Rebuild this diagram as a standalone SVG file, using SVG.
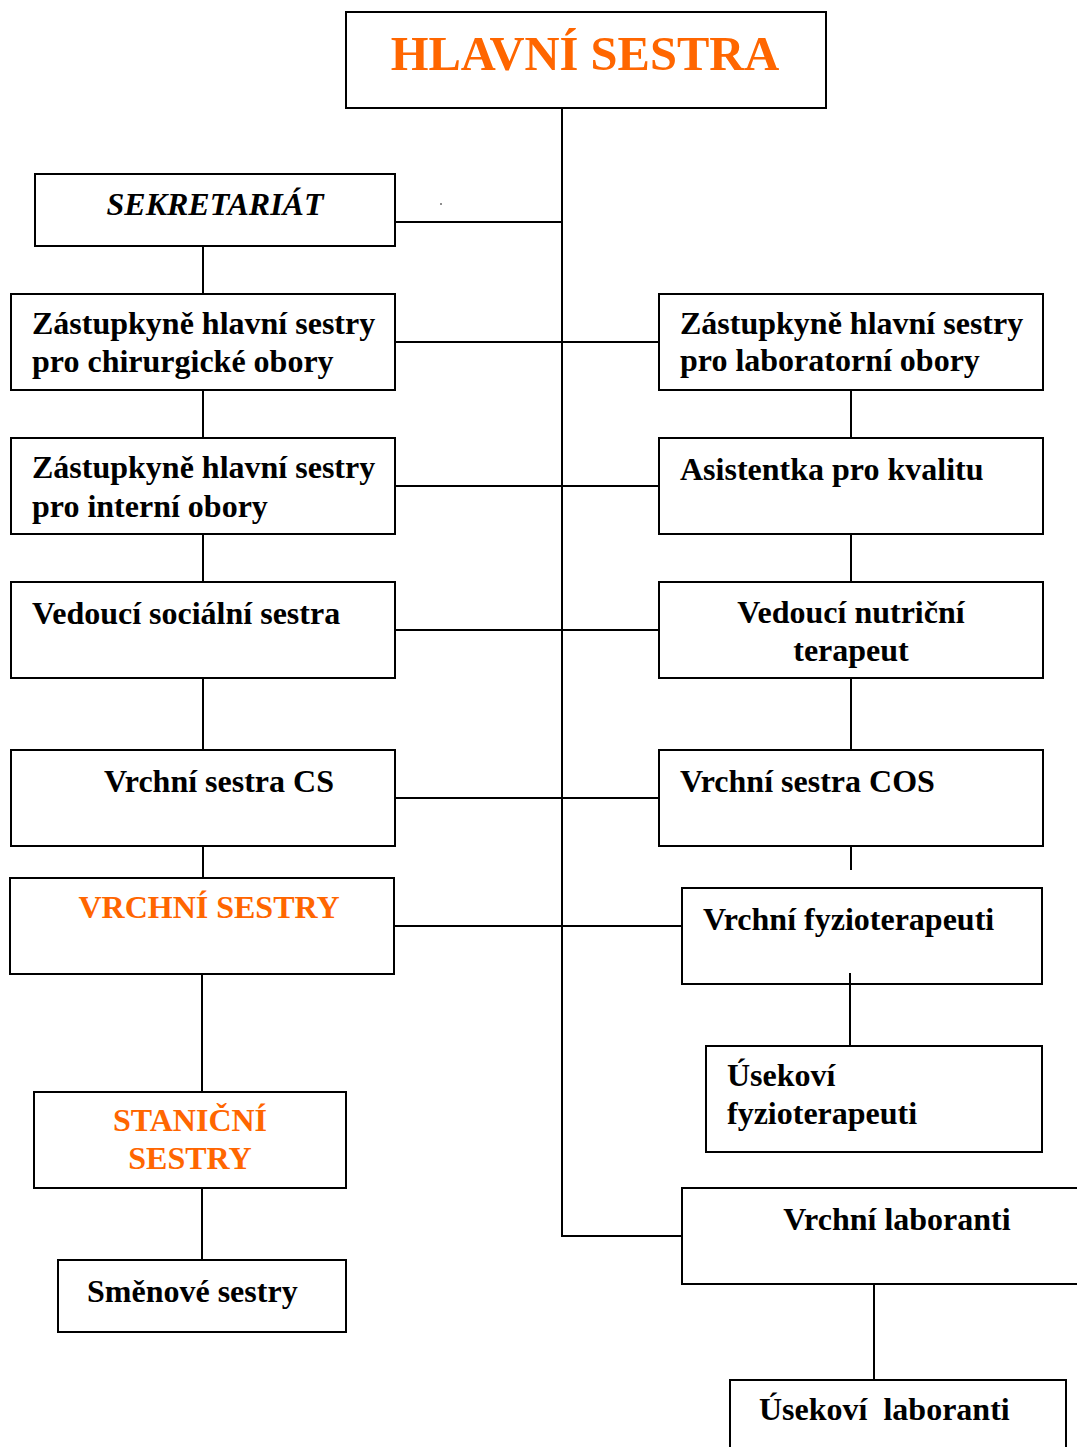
<svg xmlns="http://www.w3.org/2000/svg" width="1077" height="1447" viewBox="0 0 1077 1447">
<style>
rect{fill:#fff;stroke:#000;stroke-width:2}
.c line{stroke:#000;stroke-width:2}
text{font-family:"Liberation Serif","Times New Roman",serif;font-weight:bold;font-size:32px;fill:#000}
.o{fill:#FF6600}
.m{text-anchor:middle}
</style>
<rect width="1077" height="1447" style="stroke:none"/>
<circle cx="441" cy="204" r="0.8" fill="#000"/>
<g id="hlavni"><rect x="346" y="12" width="480" height="96"/><text class="o m" x="585" y="70" style="font-size:48.5px">HLAVNÍ SESTRA</text></g>
<g id="sekretariat"><rect x="35" y="174" width="360" height="72"/><text class="m" x="215" y="215" style="font-style:italic">SEKRETARIÁT</text></g>
<g id="zast-chir"><rect x="11" y="294" width="384" height="96"/><text x="32" y="334">Zástupkyně hlavní sestry</text><text x="32" y="372">pro chirurgické obory</text></g>
<g id="zast-lab"><rect x="659" y="294" width="384" height="96"/><text x="680" y="334">Zástupkyně hlavní sestry</text><text x="680" y="371">pro laboratorní obory</text></g>
<g id="zast-int"><rect x="11" y="438" width="384" height="96"/><text x="32" y="478">Zástupkyně hlavní sestry</text><text x="32" y="517">pro interní obory</text></g>
<g id="asistentka"><rect x="659" y="438" width="384" height="96"/><text x="680" y="480">Asistentka pro kvalitu</text></g>
<g id="ved-soc"><rect x="11" y="582" width="384" height="96"/><text x="32" y="624">Vedoucí sociální sestra</text></g>
<g id="ved-nutr"><rect x="659" y="582" width="384" height="96"/><text class="m" x="851" y="623">Vedoucí nutriční</text><text class="m" x="851" y="661">terapeut</text></g>
<g id="vrchni-cs"><rect x="11" y="750" width="384" height="96"/><text class="m" x="219" y="792">Vrchní sestra CS</text></g>
<g id="vrchni-cos"><rect x="659" y="750" width="384" height="96"/><text x="680" y="792">Vrchní sestra COS</text></g>
<g id="vrchni-sestry"><rect x="10" y="878" width="384" height="96"/><text class="o m" x="209" y="918">VRCHNÍ SESTRY</text></g>
<g id="vrchni-fyzio"><rect x="682" y="888" width="360" height="96"/><text x="703" y="930">Vrchní fyzioterapeuti</text></g>
<g id="usek-fyzio"><rect x="706" y="1046" width="336" height="106"/><text x="727" y="1086">Úsekoví</text><text x="727" y="1124">fyzioterapeuti</text></g>
<g id="stanicni"><rect x="34" y="1092" width="312" height="96"/><text class="o m" x="190" y="1131">STANIČNÍ</text><text class="o m" x="190" y="1169">SESTRY</text></g>
<g id="smenove"><rect x="58" y="1260" width="288" height="72"/><text x="87" y="1302">Směnové sestry</text></g>
<g id="vrchni-lab"><rect x="682" y="1188" width="400" height="96"/><text class="m" x="897" y="1230">Vrchní laboranti</text></g>
<g id="usek-lab"><rect x="730" y="1380" width="336" height="80"/><text x="759" y="1420" xml:space="preserve">Úsekoví  laboranti</text></g>
<g class="c">
<line x1="562" y1="108" x2="562" y2="1237"/>
<line x1="395" y1="222" x2="563" y2="222"/>
<line x1="203" y1="246" x2="203" y2="294"/>
<line x1="395" y1="342" x2="659" y2="342"/>
<line x1="203" y1="390" x2="203" y2="438"/>
<line x1="851" y1="390" x2="851" y2="438"/>
<line x1="395" y1="486" x2="659" y2="486"/>
<line x1="203" y1="534" x2="203" y2="582"/>
<line x1="851" y1="534" x2="851" y2="582"/>
<line x1="395" y1="630" x2="659" y2="630"/>
<line x1="203" y1="678" x2="203" y2="750"/>
<line x1="851" y1="678" x2="851" y2="750"/>
<line x1="395" y1="798" x2="659" y2="798"/>
<line x1="203" y1="846" x2="203" y2="878"/>
<line x1="851" y1="846" x2="851" y2="870"/>
<line x1="394" y1="926" x2="682" y2="926"/>
<line x1="850" y1="973" x2="850" y2="1046"/>
<line x1="202" y1="974" x2="202" y2="1092"/>
<line x1="202" y1="1188" x2="202" y2="1260"/>
<line x1="562" y1="1236" x2="682" y2="1236"/>
<line x1="874" y1="1284" x2="874" y2="1380"/>
</g>
</svg>
